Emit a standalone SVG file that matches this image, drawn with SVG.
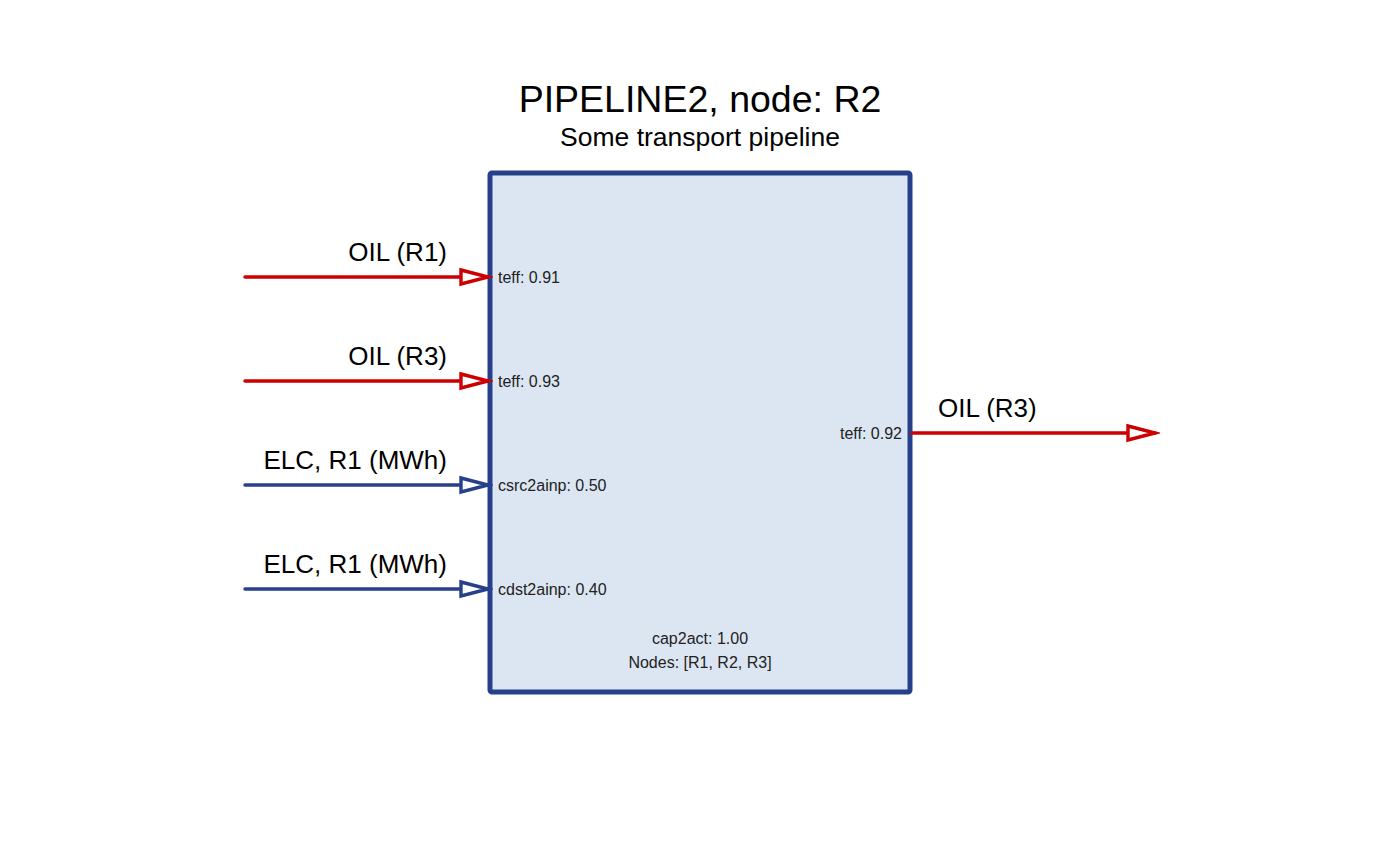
<svg xmlns="http://www.w3.org/2000/svg" width="1400" height="866" viewBox="0 0 1400 866">
<defs>
<style>
text{font-family:"Liberation Sans",Arial,sans-serif;fill:#000}
.title{font-size:37.5px;text-anchor:middle}
.sub{font-size:26.5px;text-anchor:middle}
.lbl{font-size:26px}
.small{font-size:16px;fill:#222}
.red{stroke:#cc0000;stroke-width:3.5;fill:none;stroke-linecap:round}
.blue{stroke:#27408b;stroke-width:3.5;fill:none;stroke-linecap:round}
</style>
<marker id="ahr" markerUnits="userSpaceOnUse" markerWidth="34" markerHeight="22" viewBox="-2 -11 34 22" refX="27" refY="0" orient="auto">
<path d="M0,-7 L27,0 L0,7 Z" fill="#fff" stroke="#cc0000" stroke-width="3.4" stroke-linejoin="miter"/>
</marker>
<marker id="ahb" markerUnits="userSpaceOnUse" markerWidth="34" markerHeight="22" viewBox="-2 -11 34 22" refX="27" refY="0" orient="auto">
<path d="M0,-7 L27,0 L0,7 Z" fill="#fff" stroke="#27408b" stroke-width="3.4" stroke-linejoin="miter"/>
</marker>
</defs>
<rect width="1400" height="866" fill="#fff"/>
<g id="title">
<text class="title" x="700" y="112">PIPELINE2, node: R2</text>
<text class="sub" x="700" y="146">Some transport pipeline</text>
</g>
<g id="node-pipeline2">
<rect x="490" y="173" width="420" height="519" rx="2" fill="#dce6f2" stroke="#27408b" stroke-width="5"/>
<text class="small" x="498" y="283">teff: 0.91</text>
<text class="small" x="498" y="387">teff: 0.93</text>
<text class="small" x="498" y="491">csrc2ainp: 0.50</text>
<text class="small" x="498" y="595">cdst2ainp: 0.40</text>
<text class="small" x="902" y="439" text-anchor="end">teff: 0.92</text>
<text class="small" x="700" y="644" text-anchor="middle">cap2act: 1.00</text>
<text class="small" x="700" y="668" text-anchor="middle">Nodes: [R1, R2, R3]</text>
</g>
<g id="connectors">
<line class="red" x1="245" y1="277" x2="488" y2="277" marker-end="url(#ahr)"/>
<line class="red" x1="245" y1="381" x2="488" y2="381" marker-end="url(#ahr)"/>
<line class="blue" x1="245" y1="485" x2="488" y2="485" marker-end="url(#ahb)"/>
<line class="blue" x1="245" y1="589" x2="488" y2="589" marker-end="url(#ahb)"/>
<line class="red" x1="912" y1="433" x2="1155" y2="433" marker-end="url(#ahr)"/>
<text class="lbl" x="447" y="261" text-anchor="end">OIL (R1)</text>
<text class="lbl" x="447" y="365" text-anchor="end">OIL (R3)</text>
<text class="lbl" x="447" y="469" text-anchor="end">ELC, R1 (MWh)</text>
<text class="lbl" x="447" y="573" text-anchor="end">ELC, R1 (MWh)</text>
<text class="lbl" x="938" y="417">OIL (R3)</text>
</g>
</svg>
